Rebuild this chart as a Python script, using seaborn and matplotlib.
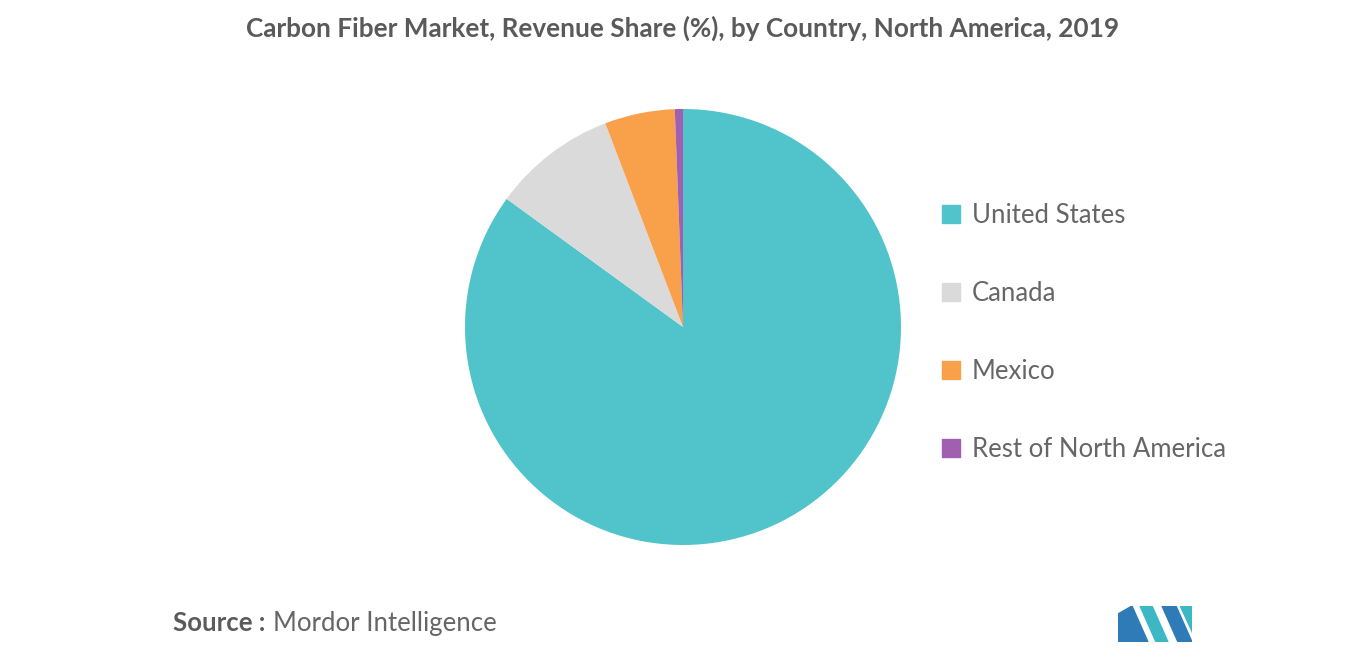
import matplotlib
matplotlib.use("Agg")
import matplotlib.pyplot as plt
import matplotlib.patches as mpatches
import seaborn as sns

# data
countries = ["United States", "Canada", "Mexico", "Rest of North America"]
shares = [85.0, 9.2, 5.2, 0.6]
colors = ["#50C4CA", "#DADADA", "#F9A04A", "#A05FB1"]

sns.set_style("white")
plt.rcParams["font.family"] = "Lato"

fig = plt.figure(figsize=(13.66, 6.55), dpi=100)

# pie axes, centered at (683, 327) px with radius ~218 px
ax = fig.add_axes([(683 - 218) / 1366, (655 - 545) / 655, 436 / 1366, 436 / 655])
ax.pie(shares, colors=colors, startangle=90, counterclock=False,
       wedgeprops=dict(linewidth=0))
ax.set_xlim(-1, 1)
ax.set_ylim(-1, 1)
ax.set_aspect("equal")
ax.axis("off")

# legend
handles = [mpatches.Patch(color=c, label=l) for c, l in zip(colors, countries)]
fig.legend(handles=handles, loc="upper left", bbox_to_anchor=(919 / 1366, 1 - 180 / 655),
           frameon=False, fontsize=18.5, labelcolor="#666666", handlelength=0.7,
           handleheight=0.7, handletextpad=0.45, labelspacing=2.06)

fig.text(0.5, 1 - 28 / 655, "Carbon Fiber Market, Revenue Share (%), by Country, North America, 2019",
         ha="center", va="center", fontsize=18.8, color="#5a5a5a", fontweight="bold")
fig.text(173 / 1366, 1 - 623 / 655, "Source :", ha="left", va="center",
         fontsize=18.5, color="#5a5a5a", fontweight="bold")
fig.text(273 / 1366, 1 - 623 / 655, "Mordor Intelligence", ha="left", va="center",
         fontsize=18.5, color="#666666")

# simple logo mark
lx = fig.add_axes([1118 / 1366, 1 - 642 / 655, 74 / 1366, 36 / 655])
lx.set_xlim(0, 74)
lx.set_ylim(0, 36)
lx.axis("off")
lx.add_patch(mpatches.Polygon([[0, 0], [0, 28], [14, 36], [30, 0]], color="#2E7BB8"))
lx.add_patch(mpatches.Polygon([[22, 36], [38, 0], [50, 0], [34, 36]], color="#3CB7C4"))
lx.add_patch(mpatches.Polygon([[44, 36], [58, 36], [74, 0], [60, 0]], color="#2E7BB8"))
lx.add_patch(mpatches.Polygon([[62, 36], [74, 36], [74, 10]], color="#3CB7C4"))

fig.savefig("out.png", dpi=100)
